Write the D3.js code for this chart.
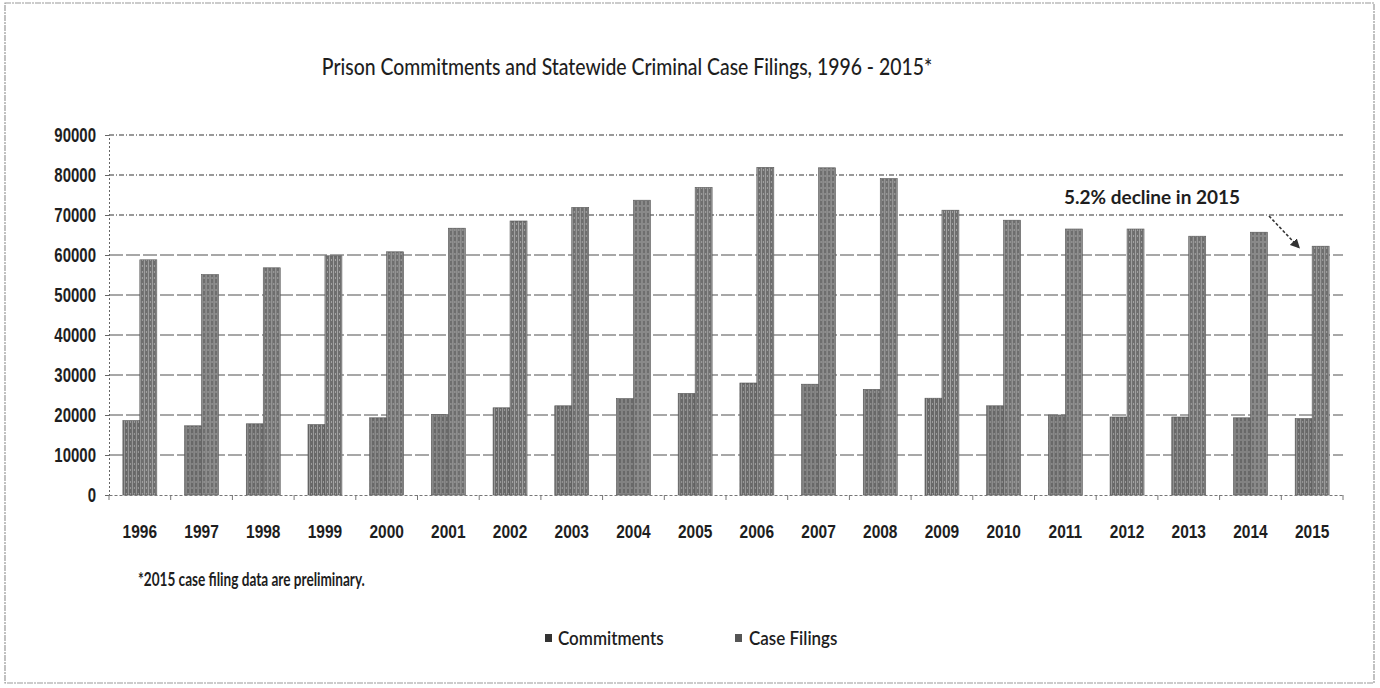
<!DOCTYPE html>
<html>
<head>
<meta charset="utf-8">
<script src="https://cdn.jsdelivr.net/npm/d3@7/dist/d3.min.js"></script>
<style>
  html, body { margin: 0; padding: 0; background: #fff; }
  svg { display: block; font-family: Lato, "Open Sans", sans-serif; }
</style>
</head>
<body>
<svg id="chart" width="1380" height="688"></svg>
<script>
const years = ["1996","1997","1998","1999","2000","2001","2002","2003","2004","2005","2006","2007","2008","2009","2010","2011","2012","2013","2014","2015"];
const commitments = [18600,17300,17800,17600,19300,20100,21800,22300,24100,25400,28000,27700,26400,24200,22300,20000,19500,19500,19300,19100];
const caseFilings = [58800,55100,56800,59800,60800,66700,68500,71900,73700,76900,81900,81800,79100,71200,68700,66500,66500,64700,65700,62200];
const seriesNames = ["Commitments","Case Filings"];
const yTicks = [0,10000,20000,30000,40000,50000,60000,70000,80000,90000];
const titleText = "Prison Commitments and Statewide Criminal Case Filings, 1996 - 2015*";
const footnoteText = "*2015 case filing data are preliminary.";
const annotationText = "5.2% decline in 2015";

const svg = d3.select("#chart");
const W = 1380, H = 688;

function addText(parent, x, y, txt, size, sy, anchor, weight) {
  return parent.append("text")
    .attr("transform", `translate(${x},${y}) scale(1,${sy})`)
    .attr("text-anchor", anchor || "start")
    .attr("font-size", size)
    .attr("font-weight", weight || 600)
    .attr("fill", "#1e1e1e")
    .text(txt);
}

// frame
svg.append("rect").attr("x", 5).attr("y", 3).attr("width", W - 11).attr("height", H - 8)
  .attr("fill", "#fff").attr("stroke", "#999").attr("stroke-width", 1.2).attr("stroke-dasharray", "6,1,2,1");

// patterns for texture
const defs = svg.append("defs");
function makePattern(id, base, stripe) {
  const p = defs.append("pattern").attr("id", id).attr("patternUnits", "userSpaceOnUse")
    .attr("width", 4).attr("height", 6);
  p.append("rect").attr("width", 4).attr("height", 6).attr("fill", base);
  p.append("rect").attr("x", 1).attr("width", 1).attr("height", 6).attr("fill", stripe);
  p.append("rect").attr("x", 3).attr("y", 1).attr("width", 1).attr("height", 2).attr("fill", stripe);
}
makePattern("patC", "#686868", "#9c9c9c");
makePattern("patF", "#6e6e6e", "#a4a4a4");
const fills = ["url(#patC)", "url(#patF)"];

const margin = { left: 109, right: 37, top: 135, bottom: 193 };
const x0 = d3.scaleBand().domain(years).range([margin.left, W - margin.right])
  .paddingInner(0.45).paddingOuter(0.225);
const x1 = d3.scaleBand().domain(seriesNames).range([0, x0.bandwidth()]).padding(0);
const y = d3.scaleLinear().domain([0, 90000]).range([H - margin.bottom, margin.top]);

// title
addText(svg, 627, 75, titleText, 19.4, 1.22, "middle", 500);

// gridlines
svg.append("g").selectAll("line").data(yTicks.filter(d => d > 0)).join("line")
  .attr("x1", margin.left).attr("x2", W - margin.right)
  .attr("y1", d => y(d)).attr("y2", d => y(d))
  .attr("stroke", d => d >= 70000 ? "#777" : "#8a8a8a")
  .attr("stroke-width", 1.4)
  .attr("stroke-dasharray", d => d >= 70000 ? "5,2,1,2" : "14,3");

// y axis
const yAxis = d3.axisLeft(y).tickValues(yTicks).tickFormat(d3.format("d")).tickSize(4).tickPadding(8);
const gy = svg.append("g").attr("transform", `translate(${margin.left},0)`).call(yAxis);
gy.select(".domain").attr("stroke", "#666").attr("stroke-dasharray", "2,2");
gy.selectAll(".tick line").attr("stroke", "#666");
gy.selectAll(".tick text").attr("x", null).attr("dy", null)
  .attr("transform", "translate(-13,6) scale(1,1.3)")
  .attr("font-size", 15).attr("font-weight", 700).attr("fill", "#1e1e1e");

// bars
const data = years.map((yr, i) => ({ year: yr, vals: [commitments[i], caseFilings[i]] }));
const groups = svg.append("g").selectAll("g").data(data).join("g")
  .attr("transform", d => `translate(${x0(d.year)},0)`);
groups.selectAll("rect").data(d => d.vals.map((v, k) => ({ name: seriesNames[k], v, k }))).join("rect")
  .attr("x", d => x1(d.name))
  .attr("width", x1.bandwidth())
  .attr("y", d => y(d.v))
  .attr("height", d => y(0) - y(d.v))
  .attr("fill", d => fills[d.k])
  .attr("stroke", "#555").attr("stroke-width", 0.6);

// x axis
const xAxis = d3.axisBottom(x0).tickSize(0);
const gx = svg.append("g").attr("transform", `translate(0,${y(0)})`).call(xAxis);
gx.select(".domain").attr("stroke", "#777").attr("stroke-dasharray", "3,2");
gx.selectAll(".tick text").attr("y", null).attr("dy", null)
  .attr("transform", "translate(0,43) scale(1,1.2)")
  .attr("font-size", 15.5).attr("font-weight", 700).attr("fill", "#1e1e1e");
// category boundary ticks
const step = x0.step();
svg.append("g").selectAll("line").data(years.concat(["end"])).join("line")
  .attr("x1", (d, i) => margin.left + i * step).attr("x2", (d, i) => margin.left + i * step)
  .attr("y1", y(0)).attr("y2", y(0) + 5).attr("stroke", "#777");

// footnote
addText(svg, 138, 586, footnoteText, 13.6, 1.4, "start", 700);

// legend
const legendPos = [{ x: 545, tx: 558 }, { x: 735, tx: 749 }];
const lg = svg.append("g").selectAll("g").data(seriesNames).join("g");
lg.append("rect").attr("x", (d, i) => legendPos[i].x).attr("y", 634).attr("width", 7).attr("height", 8)
  .attr("fill", (d, i) => i === 0 ? "#333" : "#555");
lg.each(function(d, i) {
  addText(d3.select(this), legendPos[i].tx, 645, d, 17, 1.12, "start", 600);
});

// annotation
addText(svg, 1064, 204, annotationText, 19, 1.0, "start", 700);
defs.append("marker").attr("id", "arrow").attr("viewBox", "0 0 10 10").attr("refX", 8).attr("refY", 5)
  .attr("markerWidth", 6).attr("markerHeight", 6).attr("orient", "auto")
  .append("path").attr("d", "M0,0 L10,5 L0,10 z").attr("fill", "#333");
const last = years.length - 1;
const ax = x0(years[last]) + x1("Case Filings") + x1.bandwidth() / 2;
svg.append("line").attr("x1", 1269).attr("y1", 216)
  .attr("x2", ax - 22).attr("y2", y(caseFilings[last]) + 1)
  .attr("stroke", "#333").attr("stroke-width", 1.6).attr("stroke-dasharray", "3,2")
  .attr("marker-end", "url(#arrow)");
</script>
</body>
</html>
